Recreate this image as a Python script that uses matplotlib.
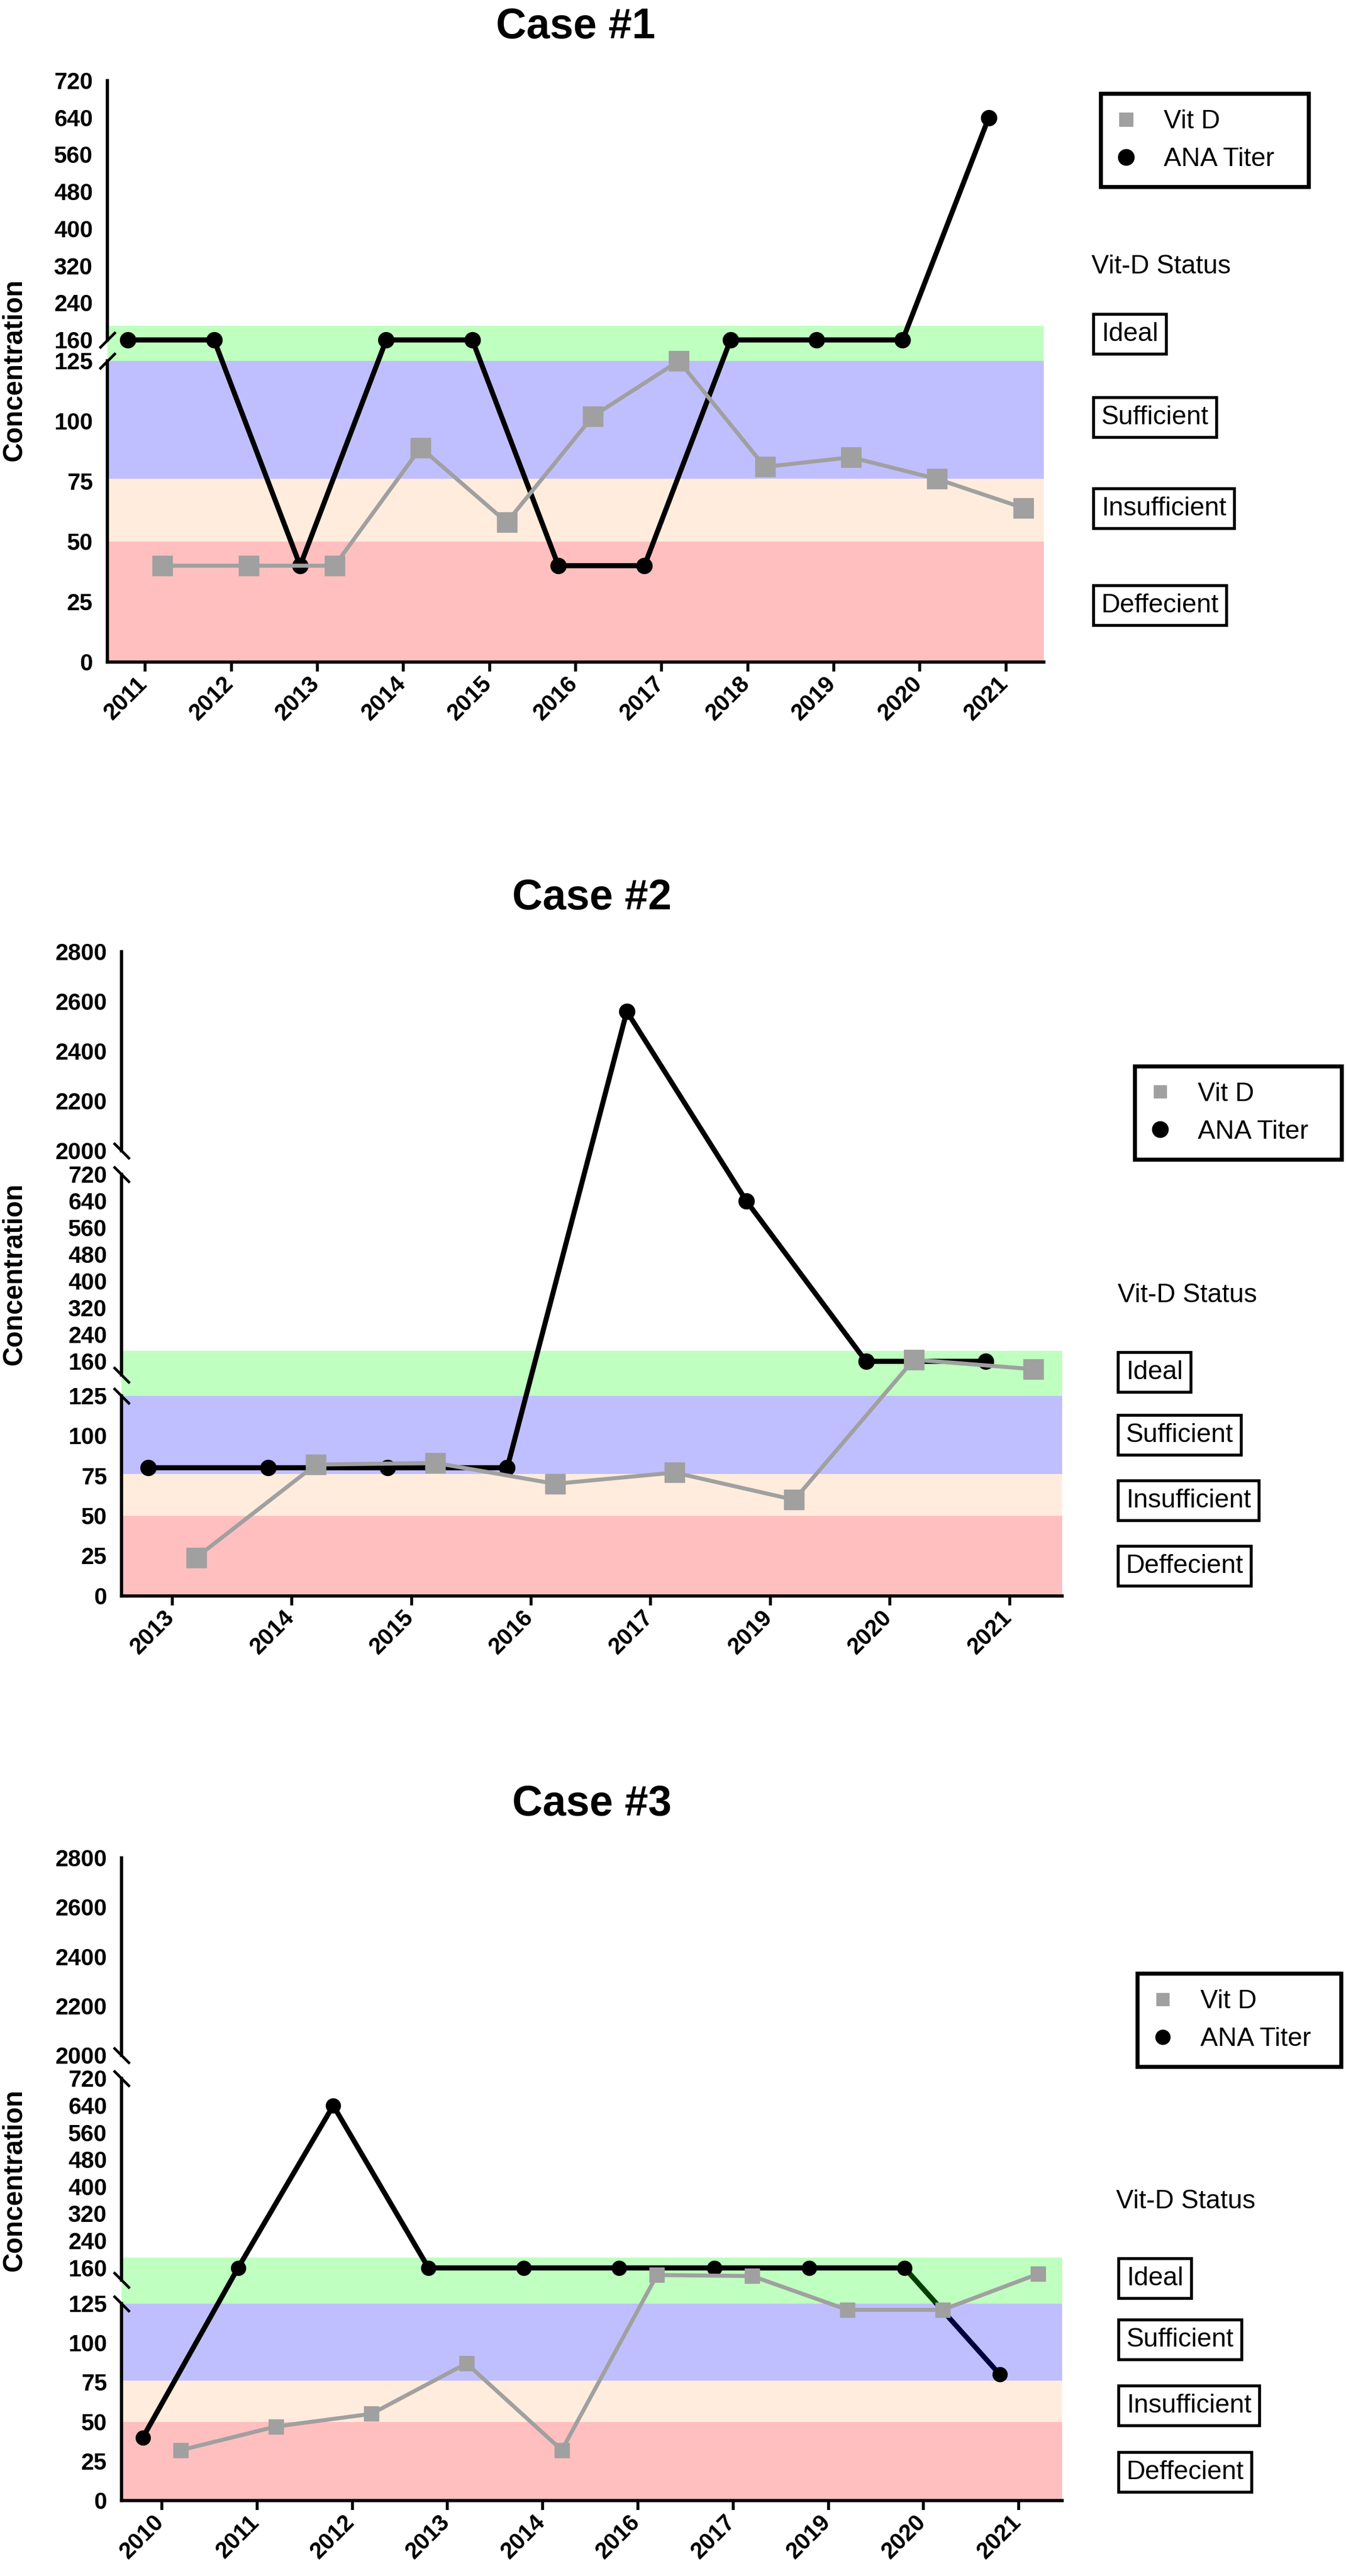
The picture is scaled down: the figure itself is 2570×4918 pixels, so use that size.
import numpy as np
import matplotlib
matplotlib.use('Agg')
import matplotlib.pyplot as plt
import matplotlib.transforms as mtransforms
from matplotlib.lines import Line2D
from matplotlib.ticker import NullFormatter
from matplotlib.font_manager import FontProperties

plt.rcParams['font.family'] = ['Liberation Sans', 'DejaVu Sans']

# ---- data ----
case1_years = ['2011', '2012', '2013', '2014', '2015', '2016', '2017', '2018', '2019', '2020', '2021']
case1_vitd = [40, 40, 40, 89, 58, 102, 125, 81, 85, 76, 64]
case1_ana = [160, 160, 40, 160, 160, 40, 40, 160, 160, 160, 640]

case2_years = ['2013', '2014', '2015', '2016', '2017', '2019', '2020', '2021']
case2_vitd = [24, 82, 83, 70, 77, 60, 165, 152]
case2_ana = [80, 80, 80, 80, 2560, 640, 160, 160]

case3_years = ['2010', '2011', '2012', '2013', '2014', '2016', '2017', '2019', '2020', '2021']
case3_vitd = [32, 47, 55, 87, 32, 153, 152, 121, 121, 154]
case3_ana = [40, 160, 640, 160, 160, 160, 160, 160, 160, 80]

case1_yticks = [0, 25, 50, 75, 100, 125, 160, 240, 320, 400, 480, 560, 640, 720]
case23_yticks = [0, 25, 50, 75, 100, 125, 160, 240, 320, 400, 480, 560, 640, 720,
                 2000, 2200, 2400, 2600, 2800]

status_labels = ['Ideal', 'Sufficient', 'Insufficient', 'Deffecient']
band_edges = [0, 50, 76, 125, 191]
band_colors = ['#FF0000', '#FFB77B', '#0000FF', '#00FF00']

# ---- layout (pixels of the 2570x4918 image) ----
W, H = 2570, 4918
GREY = '#A0A0A0'

fig = plt.figure(figsize=(W / 100, H / 100), dpi=100)
fig.patch.set_facecolor('white')


def piecewise(vals, px):
    vals = np.asarray(vals, float)
    px = np.asarray(px, float)

    def lin(v, a, b):
        v = np.asarray(v, float)
        out = np.interp(v, a, b)
        s0 = (b[1] - b[0]) / (a[1] - a[0])
        s1 = (b[-1] - b[-2]) / (a[-1] - a[-2])
        out = np.where(v < a[0], b[0] + (v - a[0]) * s0, out)
        out = np.where(v > a[-1], b[-1] + (v - a[-1]) * s1, out)
        return out

    return (lambda v: lin(v, vals, px)), (lambda p: lin(p, px, vals))


def draw_case(box, years, vitd, ana, title, yticks, marks, knots_v, knots_px,
              breaks, slash, segments, xlim, ms_sq, ms_ci, under_from=None):
    l, t, r, b = box
    ax = fig.add_axes([l / W, 1 - b / H, (r - l) / W, (b - t) / H])
    fwd, inv = piecewise(knots_v, knots_px)
    ax.set_yscale('function', functions=(fwd, inv))
    ax.set_ylim(0, yticks[-1])
    ax.set_xlim(*xlim)

    # vit-D status bands
    for i in range(len(band_colors)):
        ax.axhspan(band_edges[i], band_edges[i + 1], color=band_colors[i],
                   alpha=0.25, lw=0, zorder=1)

    x = np.arange(len(years))
    xa = x - 0.2
    xv = x + 0.2
    n = len(ana) if under_from is None else under_from + 1
    ax.plot(xa[:n], ana[:n], color='black', lw=7, zorder=3)
    if under_from is not None:
        ax.plot(xa[under_from:], ana[under_from:], color='black', lw=7, zorder=0.5)
    ax.plot(xa, ana, ls='none', marker='o', ms=ms_ci, color='black', zorder=4)
    ax.plot(xv, vitd, color=GREY, lw=5.5, marker='s', ms=ms_sq, zorder=5)

    # axes styling
    for s in ['top', 'right', 'left']:
        ax.spines[s].set_visible(False)
    ax.spines['bottom'].set_linewidth(4.5)
    ytr = ax.get_yaxis_transform()
    for lo, hi in segments:
        ax.plot([0, 0], [lo, hi], transform=ytr, color='black', lw=4.5,
                solid_capstyle='projecting', clip_on=False, zorder=6)
    ax.plot(np.zeros(len(breaks)), breaks, transform=ytr, ls='none',
            marker=(2, 2, slash), ms=31, mew=3.5, mec='black', clip_on=False, zorder=6)

    ax.set_yticks(yticks)
    ax.set_yticklabels([str(v) for v in yticks])
    ax.set_yticks(marks, minor=True)
    ax.yaxis.set_minor_formatter(NullFormatter())
    ax.tick_params(axis='y', which='major', length=0, pad=20, labelsize=32)
    ax.tick_params(axis='y', which='minor', length=13.5, width=4)
    ax.set_xticks(x)
    ax.set_xticklabels(years)
    ax.tick_params(axis='x', which='major', length=13, width=4, pad=2, labelsize=32)
    ax.tick_params(axis='x', which='minor', length=0)
    offset = mtransforms.ScaledTranslation(0.12, 0, fig.dpi_scale_trans)
    for lab in ax.get_xticklabels():
        lab.set_rotation(45)
        lab.set_ha('right')
        lab.set_va('top')
        lab.set_fontweight('bold')
        lab.set_transform(lab.get_transform() + offset)
    for lab in ax.get_yticklabels():
        lab.set_fontweight('bold')

    ax.set_title(title, fontsize=58, fontweight='bold', pad=58)
    return ax


def side_panel(ax, leg_box, status_xy, box_left, box_centers, sq_ms, ci_ms, ylab_y):
    h_vit = Line2D([], [], ls='none', marker='s', ms=sq_ms, color=GREY)
    h_ana = Line2D([], [], ls='none', marker='o', ms=ci_ms, color='black')
    l, t, r, b = leg_box
    leg = ax.legend([h_vit, h_ana], ['Vit D', 'ANA Titer'], loc='upper left',
                    bbox_to_anchor=(l / W, 1 - b / H, (r - l) / W, (b - t) / H),
                    bbox_transform=fig.transFigure, mode='expand', borderaxespad=0,
                    prop=FontProperties(family='Liberation Sans', size=36),
                    frameon=True, fancybox=False, edgecolor='black', framealpha=1,
                    borderpad=0.6, labelspacing=0.52, handlelength=0.7, handletextpad=1.1)
    leg.get_frame().set_linewidth(5.5)
    fig.text(status_xy[0] / W, 1 - status_xy[1] / H, 'Vit-D Status', fontsize=36,
             ha='left', va='center')
    for lab, cy in zip(status_labels, box_centers):
        fig.text((box_left + 15) / W, 1 - cy / H, lab, fontsize=36, ha='left', va='center',
                 bbox=dict(boxstyle='square,pad=0.3', fc='white', ec='black', lw=4))
    fig.text(27 / W, 1 - ylab_y / H, 'Concentration', rotation=90, fontsize=37,
             fontweight='bold', ha='center', va='center')


# Case 1
ax1 = draw_case((205, 154, 1993, 1264), case1_years, case1_vitd, case1_ana, 'Case #1',
                case1_yticks, [0, 25, 50, 75, 100, 240, 320, 400, 480, 560, 640, 720],
                [0, 125, 160, 720], [0, 575, 615, 1110],
                [160, 125], -45, [(0, 125), (160, 720)], (-0.44, 10.44), 27, 21.5)
side_panel(ax1, (2102, 179, 2499, 383), (2084, 509), 2088, [638, 797, 971, 1156], 18.5, 22, 706)

# Case 2
ax2 = draw_case((232, 1817, 2028, 3047), case2_years, case2_vitd, case2_ana, 'Case #2',
                case23_yticks, [0, 25, 50, 75, 100, 160, 240, 320, 400, 480, 560, 640,
                                2200, 2400, 2600, 2800],
                [0, 125, 160, 720, 2000, 2800], [0, 382.5, 448, 805, 850, 1230],
                [2000, 720, 146, 125], 45, [(0, 125), (146, 720), (2000, 2800)],
                (-0.425, 7.44), 27, 21.5)
side_panel(ax2, (2167, 2036, 2562, 2235), (2134, 2473), 2135, [2620, 2740, 2865, 2990], 17, 22, 2432)

# Case 3
ax3 = draw_case((232, 3547, 2028, 4774), case3_years, case3_vitd, case3_ana, 'Case #3',
                case23_yticks, [0, 25, 50, 75, 100, 160, 240, 320, 400, 480, 560, 640,
                                2200, 2400, 2600, 2800],
                [0, 125, 160, 720, 2000, 2800], [0, 376.3, 444.3, 806, 850, 1227.3],
                [2000, 720, 148, 125], 45, [(0, 125), (148, 720), (2000, 2800)],
                (-0.424, 9.455), 20, 20, under_from=8)
side_panel(ax3, (2172, 3768, 2561, 3960), (2131, 4203), 2136, [4350, 4467, 4593, 4720], 17, 20, 4162)

fig.savefig('out.png', dpi=100, facecolor='white')
